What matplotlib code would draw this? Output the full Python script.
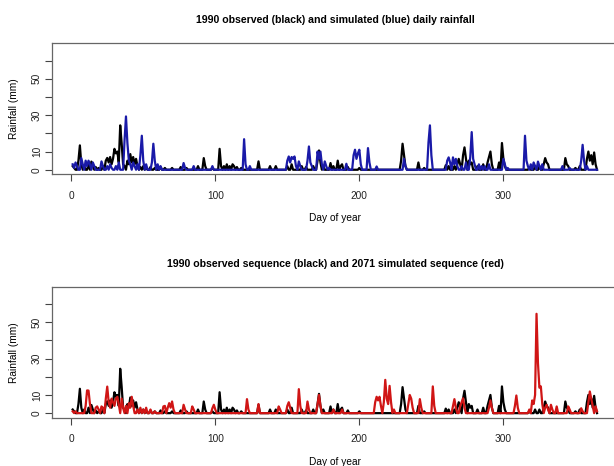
import numpy as np
import matplotlib
matplotlib.use('Agg')
import matplotlib.pyplot as plt

# daily rainfall (mm) on wet days; all other days are dry
obs_day = [1, 2, 5, 6, 7, 9, 12, 14, 15, 17, 19, 22, 24, 25, 26, 27, 28, 29, 30, 31, 32, 33, 34, 35, 36, 37,
           39, 40, 41, 42, 43, 44, 45, 46, 48, 50, 52, 55, 58, 62, 65, 70, 76, 80, 88, 92, 93, 98, 103, 104,
           106, 108, 110, 112, 113, 115, 118, 130, 138, 142, 150, 153, 160, 163, 168, 171, 172, 173, 175,
           180, 182, 185, 187, 188, 192, 200, 229, 230, 231, 232, 241, 245, 260, 262, 266, 268, 269, 270,
           272, 273, 274, 276, 277, 278, 282, 286, 289, 290, 291, 292, 297, 299, 300, 301, 318, 322, 325,
           328, 329, 330, 331, 343, 344, 345, 350, 353, 358, 359, 360, 361, 362, 363, 364]
obs_mm = [2, 1, 5, 13.4, 3, 2, 3, 4.5, 2, 1.5, 1, 2, 5, 6.5, 4, 7, 3, 6, 11.5, 9, 10, 4, 24.4, 14.5, 3, 2,
          5, 3, 8.6, 4, 7, 3, 6, 2, 1.5, 2, 1, 1.5, 1, 1.5, 1, 1, 1.5, 1, 2, 6.4, 2, 1, 11.5, 2,
          2, 3, 2, 3, 2, 1.5, 1, 4.6, 2, 2, 2, 3, 2, 1.5, 2, 5, 10.6, 4, 2,
          3.7, 2, 5, 2, 3, 1.5, 1, 5, 14.3, 8, 2, 4, 1, 2.5, 2, 2, 3, 6, 3,
          8, 12.3, 6, 5, 3, 4, 2, 3, 4, 7, 10, 3, 4, 14.7, 6, 2, 1, 2, 2,
          3, 6.4, 4, 3, 6.4, 3, 2, 1, 2, 6, 10, 5, 8, 3, 9.5, 3]

sim_day = [1, 2, 3, 4, 7, 8, 10, 11, 12, 13, 15, 16, 21, 22, 25, 27, 28, 31, 33, 37, 38, 39, 40, 41, 43, 44,
           46, 48, 49, 50, 52, 56, 57, 58, 60, 62, 78, 79, 85, 98, 120, 121, 124, 150, 151, 152, 153, 154,
           155, 156, 158, 159, 164, 165, 166, 167, 171, 172, 173, 174, 176, 177, 179, 191, 196, 197, 198,
           199, 200, 201, 206, 207, 212, 231, 232, 248, 249, 250, 261, 262, 263, 265, 266, 267, 268, 271,
           274, 277, 278, 279, 280, 283, 285, 287, 290, 300, 301, 303, 315, 316, 317, 319, 321, 322, 324,
           325, 327, 341, 346, 354, 355, 356, 358]
sim_mm = [3, 1, 4, 2, 6.4, 3, 5, 2, 5, 3, 4, 2, 4.6, 2, 2, 3, 1, 2, 4, 16, 29.3, 14.6, 5, 3, 4, 2,
          3, 8, 18.7, 5, 3, 4, 14.3, 5, 3, 2, 3.7, 1, 2, 2, 16.8, 3, 2, 5, 7.3, 4, 7, 6,
          7.3, 2, 4.6, 2, 5, 12.8, 4, 2, 10, 6, 10, 3, 4.6, 2, 1, 3.3, 8, 11, 6,
          9, 11, 3, 11.9, 4, 1.8, 6, 2, 15, 24.4, 8, 5, 6.8, 4, 6.8, 3, 6, 2, 2,
          4, 7, 20.7, 6, 3, 3, 2, 2, 3, 6, 3, 1, 18.7, 5, 2, 3, 4, 2, 4.5,
          2, 3, 2, 1, 5, 13.7, 5, 2]

fut_day = [1, 3, 10, 11, 12, 13, 17, 18, 19, 21, 22, 24, 25, 26, 27, 28, 29, 30, 31, 32, 33, 35, 36, 38, 40,
           41, 42, 43, 46, 48, 50, 52, 55, 58, 64, 65, 67, 68, 69, 70, 71, 78, 79, 84, 85, 98, 99, 100,
           122, 123, 130, 144, 145, 150, 151, 152, 158, 159, 164, 165, 171, 172, 173, 182, 188, 211, 212,
           213, 214, 215, 217, 218, 219, 220, 221, 222, 224, 234, 235, 236, 237, 242, 243, 251, 252, 265,
           266, 267, 270, 271, 272, 273, 290, 291, 292, 308, 309, 310, 318, 320, 321, 322, 323, 324, 325,
           326, 327, 329, 330, 331, 333, 334, 337, 345, 346, 354, 355, 359, 360, 361, 362, 364, 365]
fut_mm = [1, 1, 4, 12.5, 12.4, 5, 3, 3.7, 2, 3.7, 3, 8, 14.6, 6, 3, 8, 6, 4, 8, 9, 5, 8, 3, 4, 5.5,
          3, 9, 4, 2, 3, 2, 3, 2, 1, 3.7, 4, 3, 5.5, 3, 6.4, 2, 4.6, 2, 3.7, 2, 2.7, 4.6, 2,
          7.7, 2, 5, 3.7, 2, 4, 6, 3, 13.2, 4, 6.4, 2, 5, 10, 4, 2, 2, 6, 9,
          7, 9, 4, 6, 18.3, 8, 5, 15, 6, 2, 5, 10, 8, 3, 7.7, 3, 14.7, 4, 4,
          7.7, 3, 4, 6, 8.2, 3, 3, 7, 3, 4, 9.7, 3, 2, 7, 5, 10, 54.6, 27.5, 14,
          14.7, 5, 3, 4.6, 2, 4.6, 2, 3.7, 3.7, 2, 2.7, 1, 6, 11.9, 8, 4, 3.7, 1]

days = np.arange(1, 366)


def daily(day, mm):
    out = np.zeros(365)
    out[np.array(day) - 1] = mm
    return out


obs = daily(obs_day, obs_mm)
sim = daily(sim_day, sim_mm)
fut = daily(fut_day, fut_mm)

title_font = ['Liberation Sans Narrow', 'Liberation Sans', 'DejaVu Sans']
plt.rcParams['font.family'] = ['Liberation Sans', 'DejaVu Sans']

fig = plt.figure(figsize=(6.14, 4.66), dpi=100)
W, H = 614, 466

panels = [
    (43.3, sim, '#1a1aa8', '1990 observed (black) and simulated (blue) daily rainfall'),
    (286.7, fut, '#d01515', '1990 observed sequence (black) and 2071 simulated sequence (red)'),
]

for top, series, col, title in panels:
    ax = fig.add_axes([51.7 / W, 1 - (top + 131) / H, (618 - 51.7) / W, 131 / H])
    ax.plot(days, obs, color='black', lw=1.6)
    ax.plot(days, series, color=col, lw=1.6)
    ax.set_xlim(-13.56, 379.56)
    ax.set_ylim(-2.5, 69.5)
    ax.set_xticks([0, 100, 200, 300])
    ax.set_yticks([0, 10, 20, 30, 40, 50, 60])
    ax.set_yticklabels(['0', '10', '', '30', '', '50', ''], rotation=90, va='center')
    ax.tick_params(length=5, width=0.8, color='#444444', labelsize=7.3, labelcolor='#222222')
    ax.tick_params(axis='x', pad=7)
    ax.tick_params(axis='y', pad=2)
    for s in ax.spines.values():
        s.set_color('#666666')
        s.set_linewidth(0.9)
    ax.set_xlabel('Day of year', fontsize=7.3, labelpad=9)
    ax.set_ylabel('Rainfall (mm)', fontsize=7.3, labelpad=9)
    fig.text(335 / W, 1 - (top - 23) / H, title, ha='center', va='center',
             fontsize=7.6, fontweight='bold', family=title_font)

fig.savefig('out.png', dpi=100)
